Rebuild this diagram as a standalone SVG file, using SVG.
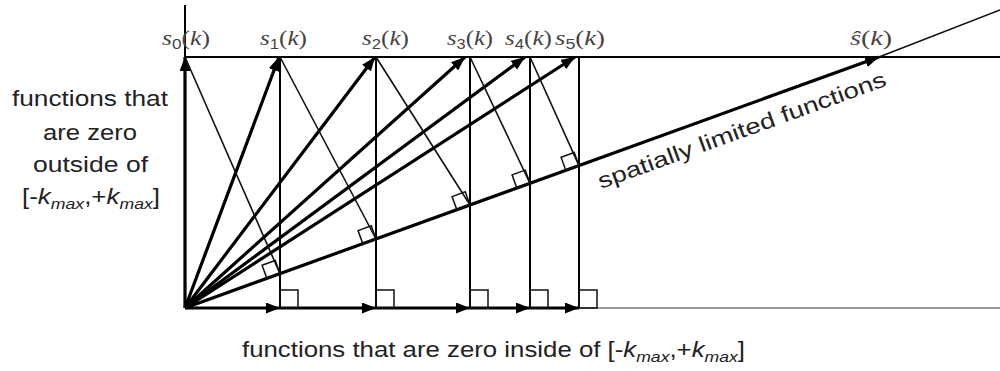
<svg xmlns="http://www.w3.org/2000/svg" width="1000" height="371" viewBox="0 0 1000 371">
<style>
.thick{stroke:#000;stroke-width:3.2;fill:none}
.med{stroke:#000;stroke-width:2;fill:none}
.thin{stroke:#111;stroke-width:1.6;fill:none}
.ra{stroke:#111;stroke-width:1.5;fill:none}
.lbl{font-family:"Liberation Sans",Arial,sans-serif;font-size:22px;fill:#222}
.sl{font-family:"Liberation Serif","Times New Roman",serif;font-size:21px;fill:#444}
.it{font-style:italic}
.sub{font-family:"Liberation Sans",Arial,sans-serif;font-size:14px;font-style:normal}
</style>
<defs>
<marker id="ah" markerUnits="userSpaceOnUse" markerWidth="15" markerHeight="11" refX="14" refY="5.5" orient="auto">
<path d="M0,0 L14,5.5 L0,11 z" fill="#000"/>
</marker>
</defs>
<rect width="1000" height="371" fill="#fff"/>

<g id="connectors">
<line class="med" x1="185" y1="57" x2="185" y2="5"/>
<line class="thick" x1="185" y1="308" x2="185" y2="57" marker-end="url(#ah)"/>
<line x1="579" y1="308" x2="1000" y2="308" stroke="#999" stroke-width="2"/>
<line class="thick" x1="185" y1="308" x2="280" y2="308" marker-end="url(#ah)"/>
<line class="thick" x1="280" y1="308" x2="376" y2="308" marker-end="url(#ah)"/>
<line class="thick" x1="376" y1="308" x2="470" y2="308" marker-end="url(#ah)"/>
<line class="thick" x1="470" y1="308" x2="530" y2="308" marker-end="url(#ah)"/>
<line class="thick" x1="530" y1="308" x2="579" y2="308" marker-end="url(#ah)"/>
<line class="med" x1="185" y1="57" x2="1000" y2="57"/>
<line class="thick" x1="185" y1="308" x2="879" y2="57" marker-end="url(#ah)"/>
<line class="thin" x1="879" y1="57" x2="1000" y2="10"/>
<line class="thick" x1="185" y1="308" x2="279" y2="57" marker-end="url(#ah)"/>
<line class="thick" x1="185" y1="308" x2="375" y2="57" marker-end="url(#ah)"/>
<line class="thick" x1="185" y1="308" x2="465" y2="57" marker-end="url(#ah)"/>
<line class="thick" x1="185" y1="308" x2="525" y2="57" marker-end="url(#ah)"/>
<line class="thick" x1="185" y1="308" x2="575" y2="57" marker-end="url(#ah)"/>
<line class="med" x1="280" y1="57" x2="280" y2="308"/>
<line class="med" x1="376" y1="57" x2="376" y2="308"/>
<line class="med" x1="470" y1="57" x2="470" y2="308"/>
<line class="med" x1="530" y1="57" x2="530" y2="308"/>
<line class="med" x1="579" y1="57" x2="579" y2="308"/>
<line class="thin" x1="185" y1="57" x2="280" y2="273.7"/>
<line class="thin" x1="280" y1="57" x2="376" y2="239"/>
<line class="thin" x1="376" y1="57" x2="470" y2="205"/>
<line class="thin" x1="470" y1="57" x2="530" y2="183.3"/>
<line class="thin" x1="530" y1="57" x2="579" y2="165.6"/>
<rect class="ra" x="-14" y="-14" width="14" height="14" transform="translate(280,273.7) rotate(-19.87)"/>
<rect class="ra" x="-14" y="-14" width="14" height="14" transform="translate(376,239) rotate(-19.87)"/>
<rect class="ra" x="-14" y="-14" width="14" height="14" transform="translate(470,205) rotate(-19.87)"/>
<rect class="ra" x="-14" y="-14" width="14" height="14" transform="translate(530,183.3) rotate(-19.87)"/>
<rect class="ra" x="-14" y="-14" width="14" height="14" transform="translate(579,165.6) rotate(-19.87)"/>
<rect class="ra" x="280" y="290" width="18" height="18"/>
<rect class="ra" x="376" y="290" width="18" height="18"/>
<rect class="ra" x="470" y="290" width="18" height="18"/>
<rect class="ra" x="530" y="290" width="18" height="18"/>
<rect class="ra" x="579" y="290" width="18" height="18"/>
</g>

<g id="s0"><text class="sl" x="162" y="45" textLength="48" lengthAdjust="spacingAndGlyphs"><tspan class="it">s</tspan><tspan class="sub" dy="4">0</tspan><tspan dy="-4">(</tspan><tspan class="it">k</tspan>)</text></g>
<g id="s1"><text class="sl" x="260" y="45" textLength="47" lengthAdjust="spacingAndGlyphs"><tspan class="it">s</tspan><tspan class="sub" dy="4">1</tspan><tspan dy="-4">(</tspan><tspan class="it">k</tspan>)</text></g>
<g id="s2"><text class="sl" x="362" y="45" textLength="47" lengthAdjust="spacingAndGlyphs"><tspan class="it">s</tspan><tspan class="sub" dy="4">2</tspan><tspan dy="-4">(</tspan><tspan class="it">k</tspan>)</text></g>
<g id="s3"><text class="sl" x="447" y="45" textLength="46" lengthAdjust="spacingAndGlyphs"><tspan class="it">s</tspan><tspan class="sub" dy="4">3</tspan><tspan dy="-4">(</tspan><tspan class="it">k</tspan>)</text></g>
<g id="s4"><text class="sl" x="505" y="45" textLength="47" lengthAdjust="spacingAndGlyphs"><tspan class="it">s</tspan><tspan class="sub" dy="4">4</tspan><tspan dy="-4">(</tspan><tspan class="it">k</tspan>)</text></g>
<g id="s5"><text class="sl" x="555" y="45" textLength="50" lengthAdjust="spacingAndGlyphs"><tspan class="it">s</tspan><tspan class="sub" dy="4">5</tspan><tspan dy="-4">(</tspan><tspan class="it">k</tspan>)</text></g>
<g id="shat"><text class="sl" x="850" y="45" textLength="42" lengthAdjust="spacingAndGlyphs"><tspan class="it">ŝ</tspan>(<tspan class="it">k</tspan>)</text></g>

<g id="label-left">
<text class="lbl" x="12" y="106" textLength="156" lengthAdjust="spacingAndGlyphs">functions that</text>
<text class="lbl" x="43" y="140" textLength="94" lengthAdjust="spacingAndGlyphs">are zero</text>
<text class="lbl" x="33" y="172" textLength="115" lengthAdjust="spacingAndGlyphs">outside of</text>
<text class="lbl" x="22" y="204" textLength="138" lengthAdjust="spacingAndGlyphs">[-<tspan class="it">k</tspan><tspan class="it" font-size="15" dy="5">max</tspan><tspan dy="-5">,+</tspan><tspan class="it">k</tspan><tspan class="it" font-size="15" dy="5">max</tspan><tspan dy="-5">]</tspan></text>
</g>

<g id="label-bottom">
<text class="lbl" x="242" y="357" textLength="503" lengthAdjust="spacingAndGlyphs">functions that are zero inside of [-<tspan class="it">k</tspan><tspan class="it" font-size="15" dy="5">max</tspan><tspan dy="-5">,+</tspan><tspan class="it">k</tspan><tspan class="it" font-size="15" dy="5">max</tspan><tspan dy="-5">]</tspan></text>
</g>

<g id="label-spatial">
<text class="lbl" fill="#333" transform="translate(601,189) rotate(-19.87)" textLength="305" lengthAdjust="spacingAndGlyphs">spatially limited functions</text>
</g>
</svg>
